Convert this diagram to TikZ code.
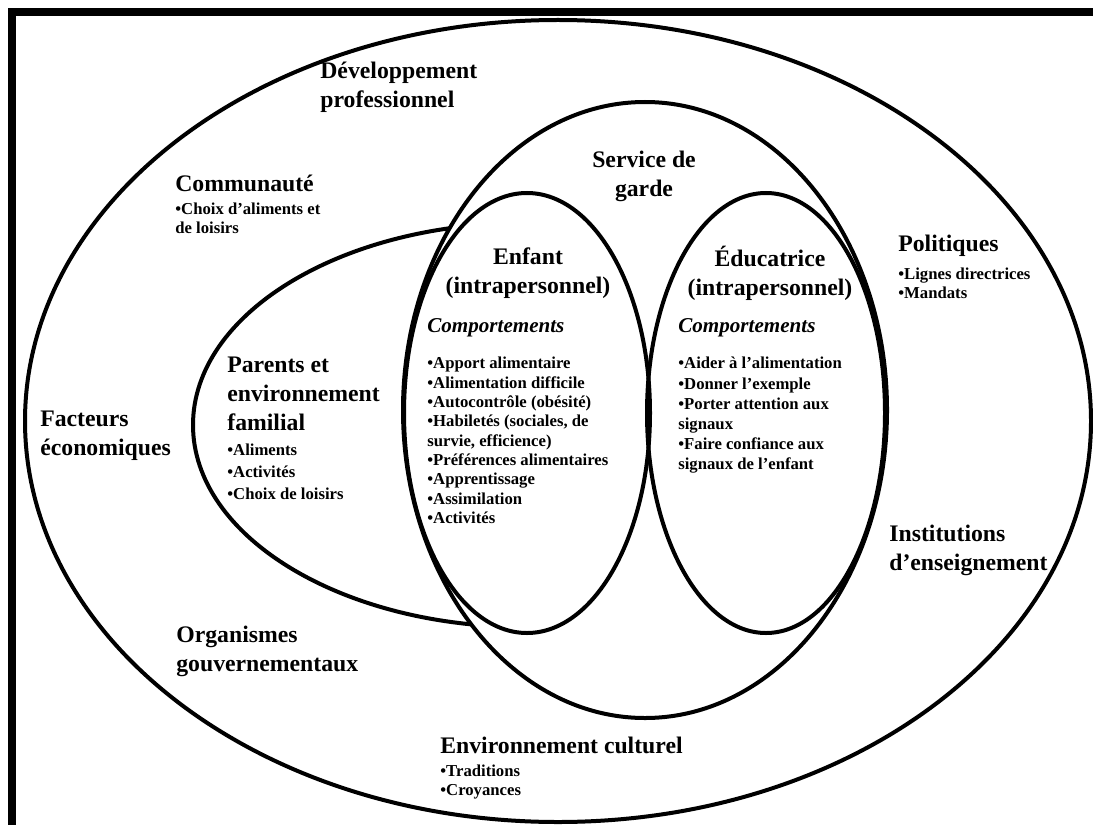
\documentclass[tikz,border=0pt]{standalone}
\usepackage{fontspec}
\setmainfont{Liberation Serif}
\usepackage{tikz}
\usetikzlibrary{positioning}
\tikzstyle{ring}=[line width=0.8mm, draw=black]
\tikzstyle{head}=[inner sep=0pt, align=left, font=\fontsize{13.5}{16.5}\selectfont\bfseries]
\tikzstyle{items}=[inner sep=0pt, align=left, font=\fontsize{9.5}{11}\selectfont\bfseries]
\tikzstyle{sub}=[inner sep=0pt, font=\fontsize{12}{14}\selectfont\bfseries\itshape]

\begin{document}
\begin{tikzpicture}[x=0.2mm, y=-0.2mm]
  \useasboundingbox (0,0) rectangle (1093,824);
  % frame, only the top and left sides are on the page
  \draw[line width=1.6mm] (12,1200) -- (12,12) -- (1200,12);

  % the spheres, from the outside in
  \filldraw[ring, fill=white] (558,421) ellipse [x radius=533, y radius=401];
  \filldraw[ring, fill=white] (525,425) ellipse [x radius=332, y radius=202];
  \filldraw[ring, fill=white] (645,410) ellipse [x radius=242, y radius=308];
  \draw[ring] (527,413) ellipse [x radius=123, y radius=220];
  \draw[ring] (766,413) ellipse [x radius=119, y radius=220];

  % outer ring
  \node[head, anchor=west] (devpro) at (320,87) {Développement\\professionnel};
  \node[head, anchor=west] (comm) at (175,183) {Communauté};
  \node[items, below right=6pt and 0pt of comm.south west] (commlist)
    {•Choix d’aliments et\\de loisirs};
  \node[head, anchor=west] (polit) at (898,246) {Politiques};
  \node[items, below right=6pt and 0pt of polit.south west] (politlist)
    {•Lignes directrices\\•Mandats};
  \node[head, anchor=west] (facteurs) at (40,436) {Facteurs\\économiques};
  \node[head, anchor=west] (instit) at (889,550) {Institutions\\d’enseignement};
  \node[head, anchor=west] (organ) at (176,651) {Organismes\\gouvernementaux};
  \node[head, anchor=west] (envcult) at (440,745) {Environnement culturel};
  \node[items, below right=6pt and 0pt of envcult.south west] (envlist)
    {•Traditions\\•Croyances};

  % family
  \node[head, anchor=west] (parents) at (227,394) {Parents et\\environnement\\familial};
  \node[items, font=\fontsize{9.5}{12.5}\selectfont\bfseries,
        below right=7pt and 0pt of parents.south west] (parlist)
    {•Aliments\\•Activités\\•Choix de loisirs};

  % child care
  \node[head, align=center] (garde) at (644,176) {Service de\\garde};

  \node[head, align=center] (enfant) at (528,273) {Enfant\\(intrapersonnel)};
  \node[sub, anchor=west] (compenf) at (427,328) {Comportements};
  \node[items, below right=11pt and 0pt of compenf.south west] (enflist)
    {•Apport alimentaire\\•Alimentation difficile\\•Autocontrôle (obésité)\\
     •Habiletés (sociales, de\\survie, efficience)\\•Préférences alimentaires\\
     •Apprentissage\\•Assimilation\\•Activités};

  \node[head, align=center] (educ) at (770,273) {Éducatrice\\(intrapersonnel)};
  \node[sub, anchor=west] (compedu) at (678,328) {Comportements};
  \node[items, font=\fontsize{9.5}{11.5}\selectfont\bfseries,
        below right=11pt and 0pt of compedu.south west] (edulist)
    {•Aider à l’alimentation\\•Donner l’exemple\\•Porter attention aux\\
     signaux\\•Faire confiance aux\\signaux de l’enfant};
\end{tikzpicture}
\end{document}
